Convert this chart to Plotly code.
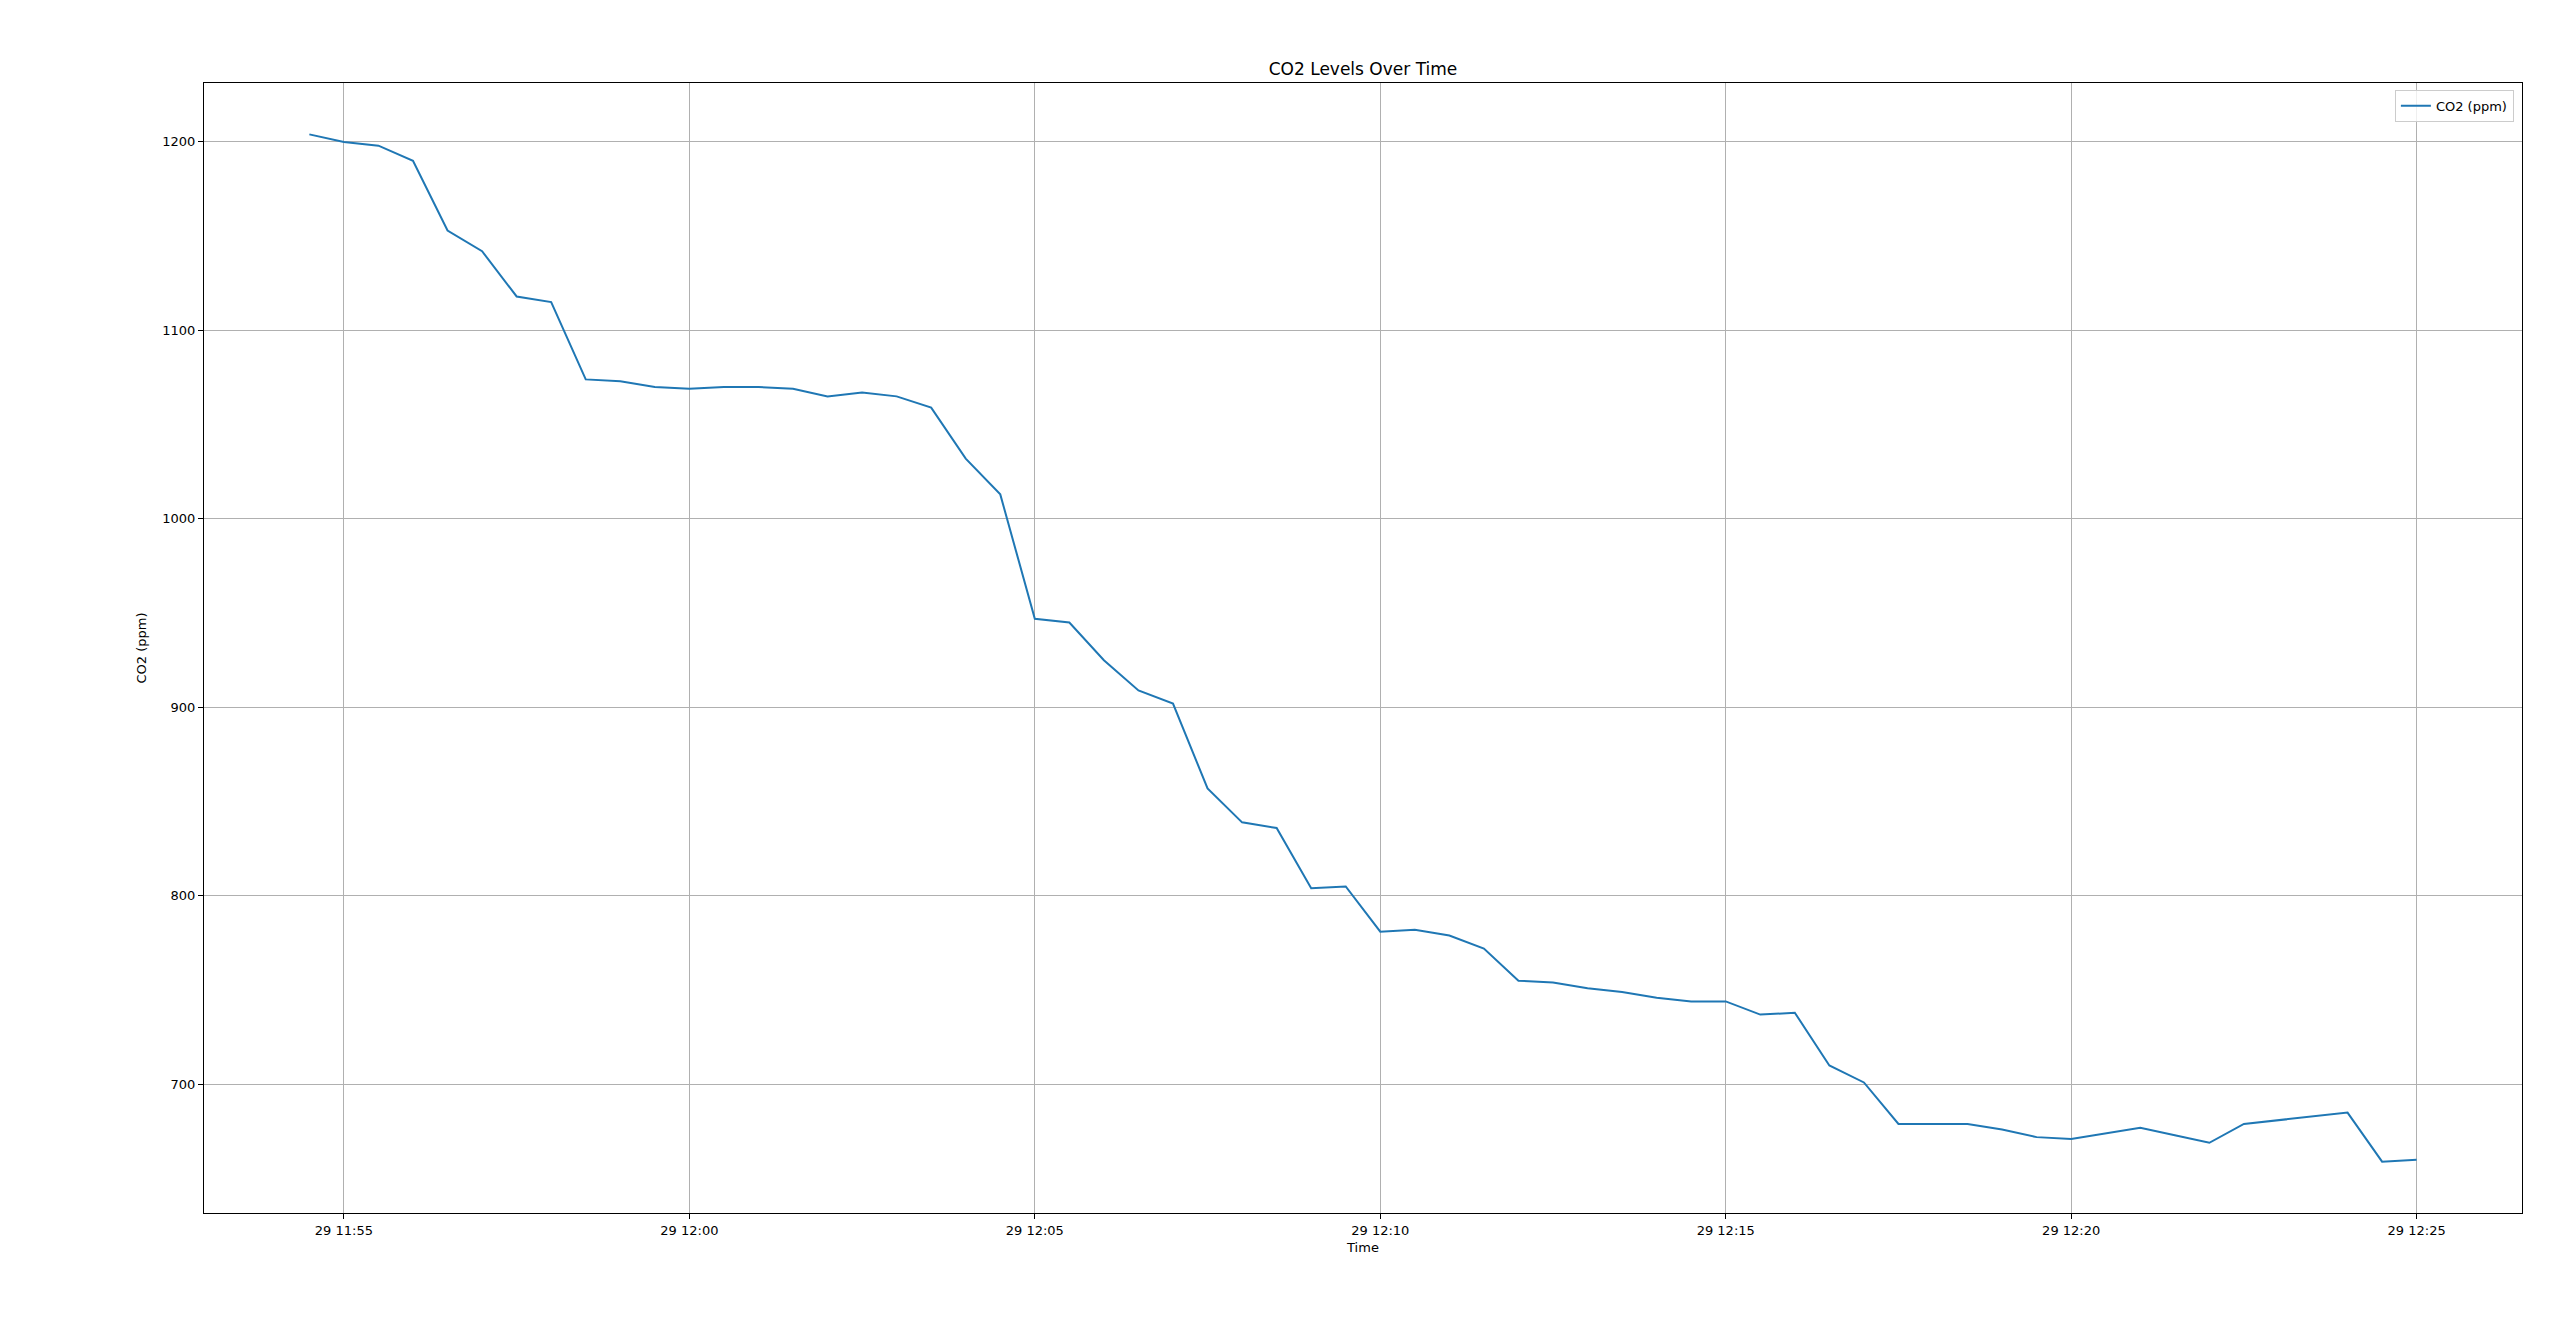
import plotly.graph_objects as go

# Timestamps (30 s sampling) and CO2 readings
times = [
    "2024-05-29 11:54:30", "2024-05-29 11:55:00", "2024-05-29 11:55:30", "2024-05-29 11:56:00",
    "2024-05-29 11:56:30", "2024-05-29 11:57:00", "2024-05-29 11:57:30", "2024-05-29 11:58:00",
    "2024-05-29 11:58:30", "2024-05-29 11:59:00", "2024-05-29 11:59:30", "2024-05-29 12:00:00",
    "2024-05-29 12:00:30", "2024-05-29 12:01:00", "2024-05-29 12:01:30", "2024-05-29 12:02:00",
    "2024-05-29 12:02:30", "2024-05-29 12:03:00", "2024-05-29 12:03:30", "2024-05-29 12:04:00",
    "2024-05-29 12:04:30", "2024-05-29 12:05:00", "2024-05-29 12:05:30", "2024-05-29 12:06:00",
    "2024-05-29 12:06:30", "2024-05-29 12:07:00", "2024-05-29 12:07:30", "2024-05-29 12:08:00",
    "2024-05-29 12:08:30", "2024-05-29 12:09:00", "2024-05-29 12:09:30", "2024-05-29 12:10:00",
    "2024-05-29 12:10:30", "2024-05-29 12:11:00", "2024-05-29 12:11:30", "2024-05-29 12:12:00",
    "2024-05-29 12:12:30", "2024-05-29 12:13:00", "2024-05-29 12:13:30", "2024-05-29 12:14:00",
    "2024-05-29 12:14:30", "2024-05-29 12:15:00", "2024-05-29 12:15:30", "2024-05-29 12:16:00",
    "2024-05-29 12:16:30", "2024-05-29 12:17:00", "2024-05-29 12:17:30", "2024-05-29 12:18:00",
    "2024-05-29 12:18:30", "2024-05-29 12:19:00", "2024-05-29 12:19:30", "2024-05-29 12:20:00",
    "2024-05-29 12:20:30", "2024-05-29 12:21:00", "2024-05-29 12:21:30", "2024-05-29 12:22:00",
    "2024-05-29 12:22:30", "2024-05-29 12:23:00", "2024-05-29 12:23:30", "2024-05-29 12:24:00",
    "2024-05-29 12:24:30", "2024-05-29 12:25:00",
]

co2_ppm = [
    1204, 1200, 1198, 1190, 1153, 1142, 1118, 1115, 1074, 1073,
    1070, 1069, 1070, 1070, 1069, 1065, 1067, 1065, 1059, 1032,
    1013, 947, 945, 925, 909, 902, 857, 839, 836, 804,
    805, 781, 782, 779, 772, 755, 754, 751, 749, 746,
    744, 744, 737, 738, 710, 701, 679, 679, 679, 676,
    672, 671, 674, 677, 673, 669, 679, 681, 683, 685,
    659, 660,
]

x_tick_vals = [
    "2024-05-29 11:55:00", "2024-05-29 12:00:00", "2024-05-29 12:05:00",
    "2024-05-29 12:10:00", "2024-05-29 12:15:00", "2024-05-29 12:20:00",
    "2024-05-29 12:25:00",
]
x_tick_text = ["29 11:55", "29 12:00", "29 12:05", "29 12:10", "29 12:15", "29 12:20", "29 12:25"]
y_tick_vals = [700, 800, 900, 1000, 1100, 1200]

x_range = ["2024-05-29 11:52:58.5", "2024-05-29 12:26:31.5"]
y_range = [631.75, 1231.25]

FONT = "DejaVu Sans"

fig = go.Figure()
fig.add_trace(go.Scatter(
    x=times, y=co2_ppm, mode="lines", name="CO2 (ppm)",
    line=dict(color="#1f77b4", width=2),
))

axis_common = dict(
    showline=True, linecolor="black", linewidth=1.3, mirror=True,
    showgrid=True, gridcolor="#b0b0b0", gridwidth=1,
    ticks="outside", ticklen=5, tickwidth=1.1, tickcolor="black",
    tickfont=dict(family=FONT, size=13, color="black"),
    zeroline=False,
)

fig.update_layout(
    width=2560, height=1343,
    paper_bgcolor="white", plot_bgcolor="white",
    margin=dict(l=196, r=46, t=75, b=138),
    title=dict(text="CO2 Levels Over Time", x=0.5, xref="paper", xanchor="center",
               y=1 - 61 / 1343, yref="container", yanchor="middle",
               font=dict(family=FONT, size=17, color="black")),
    font=dict(family=FONT, color="black"),
    showlegend=True,
    legend=dict(
        x=0.9965, y=0.994, xanchor="right", yanchor="top",
        bgcolor="rgba(255,255,255,0.8)", bordercolor="#cccccc", borderwidth=1,
        font=dict(family=FONT, size=13, color="black"),
        itemwidth=30, tracegroupgap=0,
    ),
    xaxis=dict(
        axis_common, type="date", range=x_range,
        tickvals=x_tick_vals, ticktext=x_tick_text,
        title=dict(text="Time", font=dict(family=FONT, size=13, color="black"), standoff=6),
    ),
    yaxis=dict(
        axis_common, range=y_range, tickvals=y_tick_vals,
        title=dict(text="CO2 (ppm)", font=dict(family=FONT, size=13, color="black"), standoff=12),
    ),
)

fig.write_html("out.html")
